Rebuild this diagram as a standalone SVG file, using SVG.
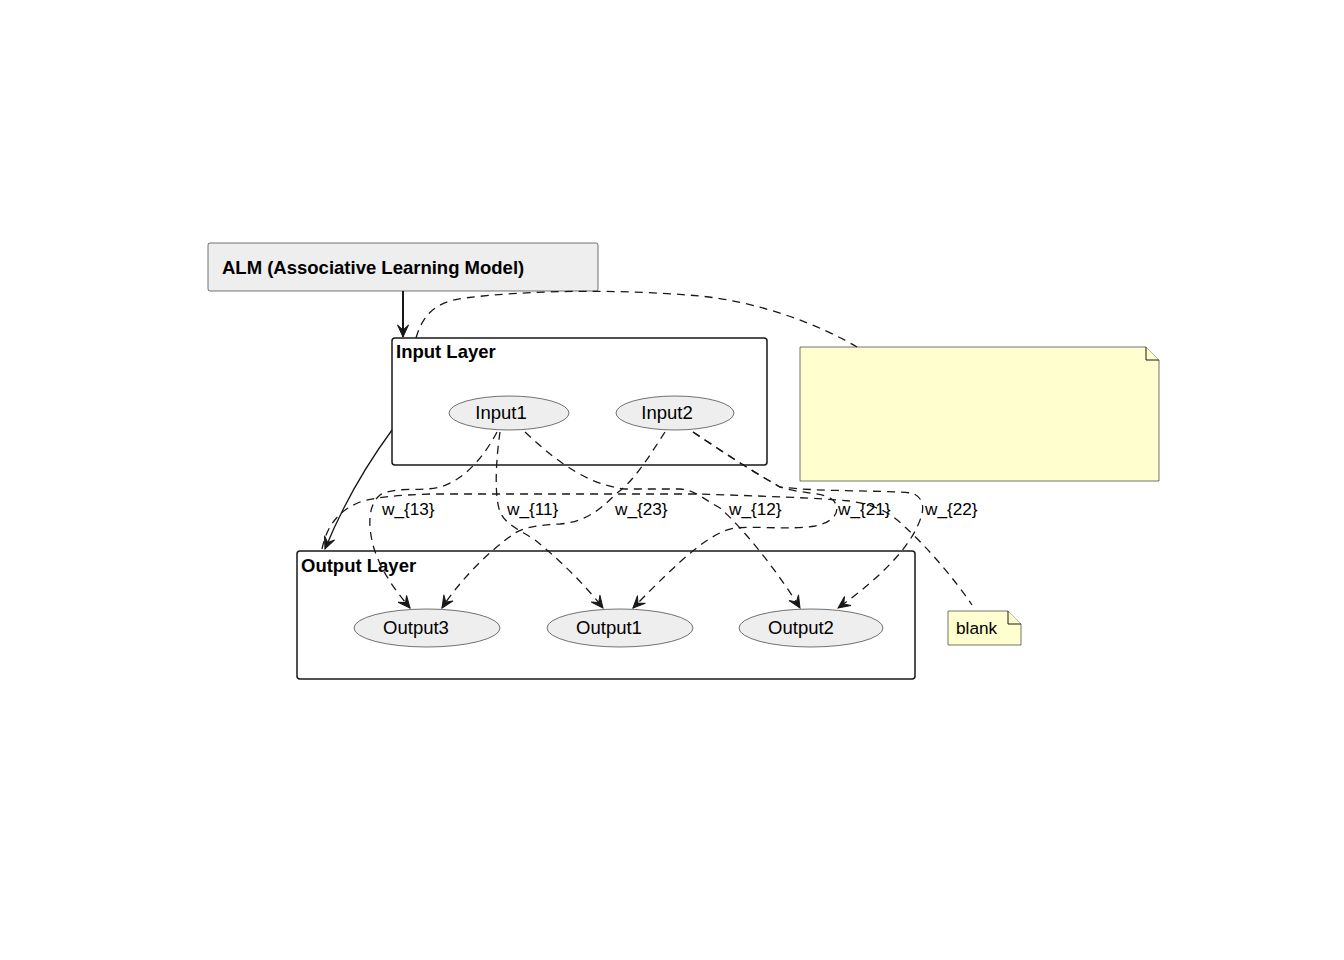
<svg xmlns="http://www.w3.org/2000/svg" width="1344" height="960" viewBox="0 0 1344 960">
<defs>
<style>
.grp{fill:none;stroke:#181818;stroke-width:1.5}
.node{fill:#eeeeee;stroke:#181818;stroke-width:0.6}
.note{fill:#fefece;stroke:#181818;stroke-width:0.6}
.fold{fill:#fefece;stroke:#181818;stroke-width:1}
.t{font-family:"Liberation Sans",Arial,sans-serif;fill:#000}
.title{font-size:18.5px;font-weight:bold}
.nt{font-size:18.5px;text-anchor:middle}
.lbl{font-size:17.2px}
.dash{fill:none;stroke:#181818;stroke-width:1.3;stroke-dasharray:8,6}
.solid{fill:none;stroke:#181818;stroke-width:1.3}
</style>
<marker id="ah" viewBox="-14 -7 16 14" refX="0" refY="0" markerWidth="16" markerHeight="14" markerUnits="userSpaceOnUse" orient="auto">
<path d="M0,0 L-12,-5.5 L-7,0 L-12,5.5 Z" fill="#181818" stroke="#181818" stroke-width="1"/>
</marker>
</defs>
<rect width="1344" height="960" fill="#ffffff"/>

<g id="alm">
<rect x="208" y="243" width="390" height="48" rx="2" class="node"/>
<text x="222" y="274" class="t title">ALM (Associative Learning Model)</text>
</g>

<g id="input-layer">
<rect x="392" y="338" width="375" height="127" rx="3" class="grp"/>
<text x="396" y="358" class="t title">Input Layer</text>
</g>
<g id="input1">
<ellipse cx="509" cy="413" rx="60" ry="17" class="node"/>
<text x="501" y="419" class="t nt">Input1</text>
</g>
<g id="input2">
<ellipse cx="675" cy="413" rx="59" ry="17" class="node"/>
<text x="667" y="419" class="t nt">Input2</text>
</g>

<g id="output-layer">
<rect x="297" y="551" width="618" height="128" rx="3" class="grp"/>
<text x="301" y="572" class="t title">Output Layer</text>
</g>
<g id="output3">
<ellipse cx="427" cy="628" rx="73" ry="19" class="node"/>
<text x="416" y="634" class="t nt">Output3</text>
</g>
<g id="output1">
<ellipse cx="620" cy="628" rx="73" ry="19" class="node"/>
<text x="609" y="634" class="t nt">Output1</text>
</g>
<g id="output2">
<ellipse cx="811" cy="628" rx="72" ry="19" class="node"/>
<text x="801" y="634" class="t nt">Output2</text>
</g>

<g id="note-big">
<path d="M800,347 L1146,347 L1159,360 L1159,481 L800,481 Z" class="note"/>
<path d="M1146,347 L1146,360 L1159,360" class="fold"/>
</g>
<g id="note-blank">
<path d="M948,611 L1008,611 L1021,624 L1021,645 L948,645 Z" class="note"/>
<path d="M1008,611 L1008,624 L1021,624" class="fold"/>
<text x="956" y="634" class="t" style="font-size:17.2px">blank</text>
</g>

<g id="connectors">
<path d="M403,291 L403,337" fill="none" stroke="#181818" stroke-width="2" marker-end="url(#ah)"/>
<path d="M392,430 C370,460 345,500 325,549" class="solid" marker-end="url(#ah)"/>
<path d="M416,338 C422,318 432,302 465,298 C530,290 620,289 700,296 C760,302 820,325 857,347" class="dash"/>
<path d="M322,549 C326,530 335,512 360,502 C375,497 400,495 430,494 L700,494 C760,496 820,498 850,501 C875,505 890,512 905,527 C930,550 955,580 972,605" class="dash"/>
<path d="M497,432 C485,455 465,480 440,487 C420,492 395,486 380,495 C368,505 368,525 373,545 C380,570 395,590 410,608" class="dash" marker-end="url(#ah)"/>
<path d="M500,432 C496,460 494,495 500,512 C506,525 520,530 535,540 C560,560 585,585 603,608" class="dash" marker-end="url(#ah)"/>
<path d="M665,432 C650,455 635,480 617,493 C600,510 585,522 560,524 C540,525 525,527 515,533 C490,550 460,580 442,608" class="dash" marker-end="url(#ah)"/>
<path d="M525,432 C560,465 590,485 625,489 L680,489 C695,490 705,500 720,508 C745,530 780,575 800,608" class="dash" marker-end="url(#ah)"/>
<path d="M693,432 C720,450 750,470 780,487 C800,494 825,492 833,500 C842,510 835,522 815,526 C790,530 760,526 735,528 C710,532 680,560 633,608" class="dash" marker-end="url(#ah)"/>
<path d="M693,432 C720,450 750,470 780,487 C820,492 880,490 912,493 C925,498 925,510 918,525 C905,555 870,585 838,608" class="dash" marker-end="url(#ah)"/>
<text x="382" y="515" class="t lbl">w_{13}</text>
<text x="507" y="515" class="t lbl">w_{11}</text>
<text x="615" y="515" class="t lbl">w_{23}</text>
<text x="729" y="515" class="t lbl">w_{12}</text>
<text x="838" y="515" class="t lbl">w_{21}</text>
<text x="925" y="515" class="t lbl">w_{22}</text>
</g>
</svg>
